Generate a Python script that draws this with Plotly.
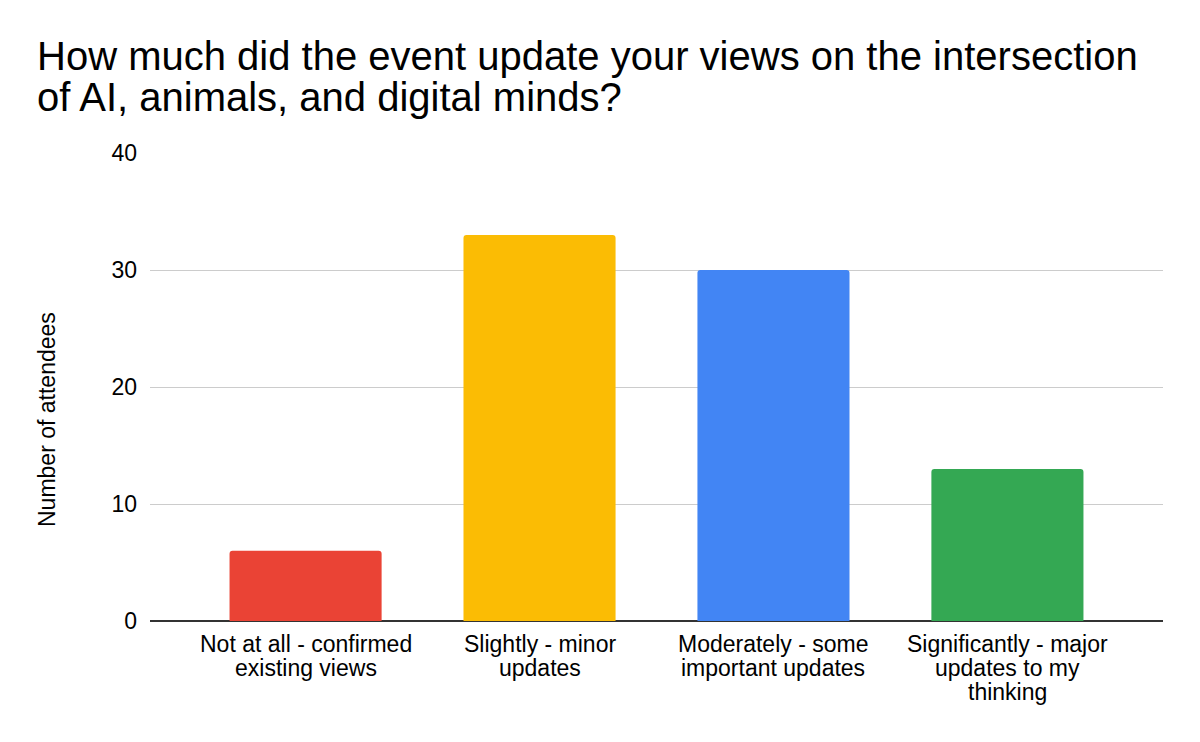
import plotly.graph_objects as go

# data
categories = [
    "Not at all - confirmed existing views",
    "Slightly - minor updates",
    "Moderately - some important updates",
    "Significantly - major updates to my thinking",
]
label_lines = [
    ["Not at all - confirmed", "existing views"],
    ["Slightly - minor", "updates"],
    ["Moderately - some", "important updates"],
    ["Significantly - major", "updates to my", "thinking"],
]
counts = [6, 33, 30, 13]
colors = ["#EA4335", "#FBBC04", "#4285F4", "#34A853"]

title_lines = [
    "How much did the event update your views on the intersection",
    "of AI, animals, and digital minds?",
]
y_title = "Number of attendees"

FONT = "Liberation Sans, Arial, sans-serif"

fig = go.Figure()
fig.add_trace(go.Bar(x=categories, y=counts, marker_color=colors,
                     marker_line_width=0, marker_cornerradius=3))

# title, one annotation per line (tighter line spacing than <br>)
for i, line in enumerate(title_lines):
    fig.add_annotation(text=line, xref="paper", yref="paper", x=0, y=1,
                       xshift=-115, yshift=97 - 41 * i,
                       xanchor="left", yanchor="middle", showarrow=False,
                       font=dict(size=40, color="#000"))

# category labels, one annotation per line
for cat, lines in zip(categories, label_lines):
    for j, line in enumerate(lines):
        fig.add_annotation(text=line, xref="x", yref="y", x=cat, y=0,
                           yshift=-23 - 24 * j, xanchor="center",
                           yanchor="middle", showarrow=False,
                           font=dict(size=23, color="#000"))

fig.add_annotation(text=y_title, xref="paper", yref="paper", x=0, y=0.5,
                   xshift=-103, yshift=-33, textangle=-90, showarrow=False,
                   xanchor="center", yanchor="middle",
                   font=dict(size=23, color="#000"))

fig.update_layout(
    width=1184, height=726,
    margin=dict(l=142, r=29, t=145, b=113),
    paper_bgcolor="white", plot_bgcolor="white",
    font=dict(family=FONT, size=23, color="#000"),
    bargap=0.35, showlegend=False,
)
fig.update_xaxes(range=[-0.665, 3.665], showgrid=False, ticks="",
                 showline=False, showticklabels=False)
fig.update_yaxes(range=[0, 40], dtick=10, gridcolor="#cccccc", gridwidth=1,
                 zeroline=True, zerolinecolor="#333333", zerolinewidth=2,
                 ticks="", ticklabelstandoff=12, tickfont_size=23)

fig.write_html("out.html")
